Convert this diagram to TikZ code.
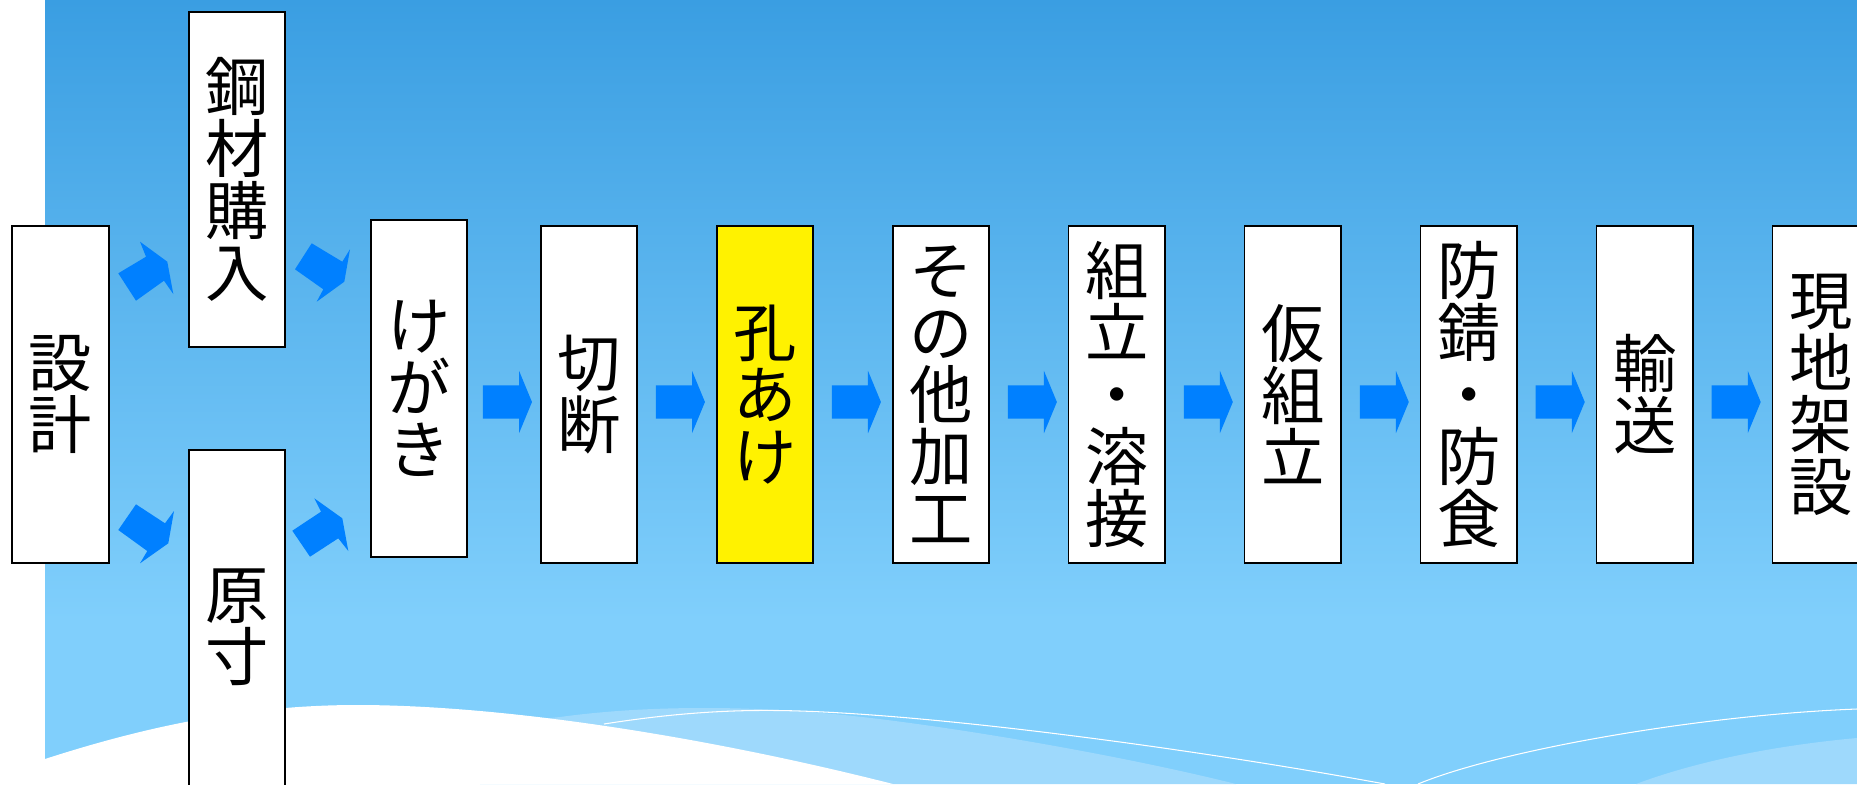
\documentclass[tikz,border=0pt]{standalone}
\usepackage{fontspec}
\setmainfont{Noto Sans CJK JP}
\usepackage{tikz}
\usetikzlibrary{calc}
\usetikzlibrary{positioning}
\usetikzlibrary{shapes.arrows}

\definecolor{skytop}{HTML}{3A9EE2}
\definecolor{skybottom}{HTML}{80CFFC}
\definecolor{wavelight}{HTML}{9ED9FC}
\definecolor{arrowblue}{HTML}{0080FF}

\begin{document}
\begin{tikzpicture}[x=0.01cm, y=-0.01cm,
    stepbox/.style={rectangle, draw=black, fill=white, line width=0.5pt, minimum width=0.965cm, minimum height=3.37cm, inner sep=0pt, align=center, font={\fontsize{18pt}{17.6pt}\selectfont\lineskiplimit=-20pt}},
    flowarrow/.style={single arrow, fill=arrowblue, draw=none, inner xsep=0pt, inner ysep=0.16cm, minimum height=0.49cm, single arrow head extend=0.145cm, single arrow tip angle=135},
    node distance=0.776cm]
    \useasboundingbox (0,0) rectangle (1857,784);
    \clip (0,0) rectangle (1857,784);

    % background and waves
    \shade[top color=skytop, bottom color=skybottom] (45,0) rectangle (1857,620);
    \fill[skybottom] (45,619) rectangle (1857,784);
    \fill[wavelight] (480,725) -- (560,717) .. controls (640,706) and (730,706) .. (809,712) .. controls (900,718) and (1100,750) .. (1236,784) -- (480,784) -- cycle;
    \fill[wavelight] (1636,784) .. controls (1700,760) and (1780,745) .. (1857,738) -- (1857,784) -- cycle;
    \draw[white, line width=0.3pt] (604,724) .. controls (680,712) and (740,709) .. (800,711) .. controls (950,716) and (1200,750) .. (1385,784);
    \draw[white, line width=0.3pt] (1418,784) .. controls (1500,750) and (1700,715) .. (1857,709);
    \fill[white] (45,759) .. controls (150,725) and (250,705) .. (357,705) .. controls (500,705) and (700,735) .. (893,784) -- (45,784) -- cycle;

    \node[stepbox] (design) at (60.5,394.5) {設\\計};
    \node[stepbox, minimum height=3.35cm] (steel) at (237,179.5) {鋼\\材\\購\\入};
    \node[stepbox, minimum height=3.54cm] (gensun) at (237,627) {原\\寸};
    \node[stepbox] (mark) at (419,388.5) {け\\が\\き};
    \node[stepbox] (cut) at (589,394.5) {切\\断};
    \node[stepbox, fill=yellow] (drill) [right=of cut] {孔\\あ\\け};
    \node[stepbox] (other) [right=of drill] {そ\\の\\他\\加\\工};
    \node[stepbox] (weld) [right=of other] {組\\立\\・\\溶\\接};
    \node[stepbox] (trial) [right=of weld] {仮\\組\\立};
    \node[stepbox] (paint) [right=of trial] {防\\錆\\・\\防\\食};
    \node[stepbox] (ship) [right=of paint] {輸\\送};
    \node[stepbox] (erect) [right=of ship] {現\\地\\架\\設};

    % slanted arrows
    \fill[arrowblue] (118.3,273.3) -- (146,256.7) -- (140,241.7) -- (167.3,261.7) -- (173.3,294) -- (164,280.7) -- (136,300.7) -- cycle;
    \fill[arrowblue] (118.3,530) -- (136,504.3) -- (165,523.3) -- (174,511) -- (168.3,543.3) -- (140,563.3) -- (147.3,551) -- cycle;
    \fill[arrowblue] (295,269.3) -- (311.7,243.3) -- (342.3,261.7) -- (350,249.3) -- (344.3,281.7) -- (316.7,301.7) -- (323.3,289.3) -- cycle;
    \fill[arrowblue] (292.3,530.7) -- (310,556.7) -- (338.3,538.3) -- (348.3,551) -- (342.3,518.3) -- (314.3,498.3) -- (321,511.7) -- cycle;

    \node[flowarrow] (a-mark) at ($(mark.east)!0.5!(cut.west)+(0,10.5)$) {};
    \foreach \a/\b in {cut/drill, drill/other, other/weld, weld/trial, trial/paint, paint/ship, ship/erect}
        \node[flowarrow] (a-\a) at ($(\a.east)!0.5!(\b.west)+(0,7.5)$) {};
\end{tikzpicture}
\end{document}
